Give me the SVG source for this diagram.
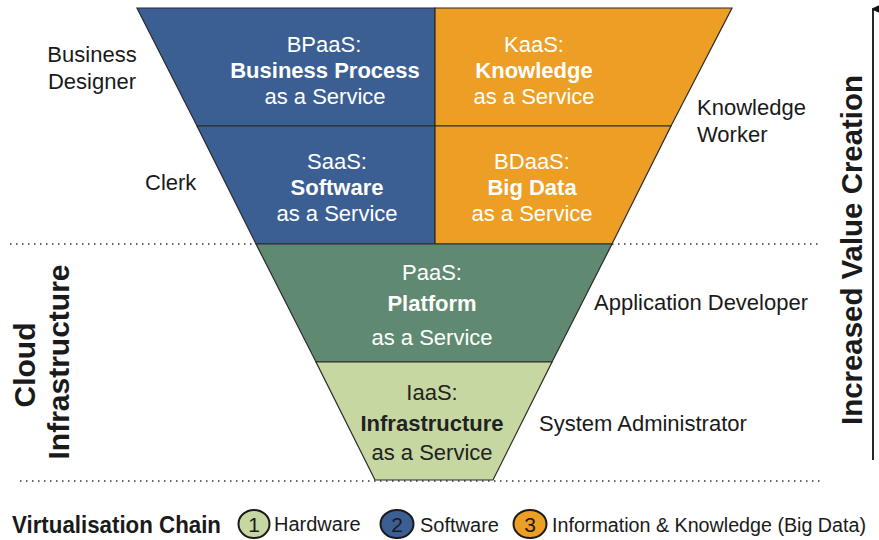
<svg xmlns="http://www.w3.org/2000/svg" width="879" height="540" viewBox="0 0 879 540">
<defs>
<style>
text{font-family:"Liberation Sans",Arial,sans-serif;}
.w{fill:#fff;font-size:22px;text-anchor:middle;}
.d{fill:#222;font-size:22px;text-anchor:middle;}
.b{font-weight:bold;}
.lab{fill:#1a1a1a;font-size:22px;}
.big{fill:#1a1a1a;font-size:30px;font-weight:bold;text-anchor:middle;}
.leg{fill:#1a1a1a;font-size:20px;}
.num{fill:#1a1a1a;font-size:21px;text-anchor:middle;}
.seg{stroke:#2a2a2a;stroke-width:1.2;}
.dot{stroke:#333;stroke-width:1.5;stroke-dasharray:1.5 4.5;fill:none;}
.cir{stroke:#1a1a1a;stroke-width:2;}
</style>
<marker id="ah" markerWidth="12" markerHeight="12" refX="5" refY="1" orient="auto" markerUnits="userSpaceOnUse" viewBox="0 0 10 10">
<path d="M5,0 L9,9 L5,6.5 L1,9 Z" fill="#111" stroke="#111" stroke-width="0.8" stroke-linejoin="round"/>
</marker>
</defs>
<rect width="879" height="540" fill="#fff"/>
<g id="connectors">
<line class="dot" x1="10" y1="244" x2="256" y2="244"/>
<line class="dot" x1="612" y1="244" x2="822" y2="244"/>
<line class="dot" x1="20" y1="481" x2="822" y2="481"/>
<line x1="873" y1="460" x2="873" y2="9" stroke="#111" stroke-width="1.8" marker-end="url(#ah)"/>
</g>
<g id="bpaas">
<polygon class="seg" points="137,8 435,8 435,126 197,126" fill="#3B5F93"/>
<text class="w" x="324" y="52">BPaaS:</text>
<text class="w b" x="325" y="78">Business Process</text>
<text class="w" x="325" y="104">as a Service</text>
</g>
<g id="kaas">
<polygon class="seg" points="435,8 732,8 671,126 435,126" fill="#EC9E25"/>
<text class="w" x="534" y="52">KaaS:</text>
<text class="w b" x="534" y="78">Knowledge</text>
<text class="w" x="534" y="104">as a Service</text>
</g>
<g id="saas">
<polygon class="seg" points="197,126 435,126 435,244 256,244" fill="#3B5F93"/>
<text class="w" x="337" y="169">SaaS:</text>
<text class="w b" x="337" y="195">Software</text>
<text class="w" x="337" y="221">as a Service</text>
</g>
<g id="bdaas">
<polygon class="seg" points="435,126 671,126 612,244 435,244" fill="#EC9E25"/>
<text class="w" x="532" y="169">BDaaS:</text>
<text class="w b" x="532" y="195">Big Data</text>
<text class="w" x="532" y="221">as a Service</text>
</g>
<g id="paas">
<polygon class="seg" points="256,244 612,244 552,362 316,362" fill="#5F8A71"/>
<text class="w" x="432" y="280">PaaS:</text>
<text class="w b" x="432" y="311">Platform</text>
<text class="w" x="432" y="345">as a Service</text>
</g>
<g id="iaas">
<polygon class="seg" points="316,362 552,362 493,480 375,480" fill="#C6D7A1"/>
<text class="d" x="432" y="400">IaaS:</text>
<text class="d b" x="432" y="431">Infrastructure</text>
<text class="d" x="432" y="460">as a Service</text>
</g>
<g id="roles">
<text class="lab" x="92" y="62" text-anchor="middle">Business</text>
<text class="lab" x="92" y="89" text-anchor="middle">Designer</text>
<text class="lab" x="145" y="190">Clerk</text>
<text class="lab" x="697" y="115">Knowledge</text>
<text class="lab" x="697" y="142">Worker</text>
<text class="lab" x="594" y="310">Application Developer</text>
<text class="lab" x="539" y="431">System Administrator</text>
</g>
<g id="cloud-infra">
<text class="big" transform="translate(35,365) rotate(-90)">Cloud</text>
<text class="big" transform="translate(69,362) rotate(-90)">Infrastructure</text>
</g>
<g id="value">
<text class="big" transform="translate(862,250) rotate(-90)" textLength="350" lengthAdjust="spacingAndGlyphs">Increased Value Creation</text>
</g>
<g id="legend">
<text class="b" x="12" y="533" font-size="24" fill="#1a1a1a" textLength="209" lengthAdjust="spacingAndGlyphs">Virtualisation Chain</text>
<ellipse class="cir" cx="254" cy="524" rx="15.5" ry="14" fill="#C6D7A1"/>
<text class="num" x="254" y="532">1</text>
<text class="leg" x="274" y="531">Hardware</text>
<ellipse class="cir" cx="397" cy="524" rx="16.5" ry="14" fill="#3B5F93"/>
<text class="num" x="397" y="532">2</text>
<text class="leg" x="420" y="532">Software</text>
<ellipse class="cir" cx="530" cy="524" rx="16.5" ry="14" fill="#EC9E25"/>
<text class="num" x="530" y="532">3</text>
<text class="leg" x="552" y="532" textLength="314" lengthAdjust="spacingAndGlyphs">Information &amp; Knowledge (Big Data)</text>
</g>
</svg>
